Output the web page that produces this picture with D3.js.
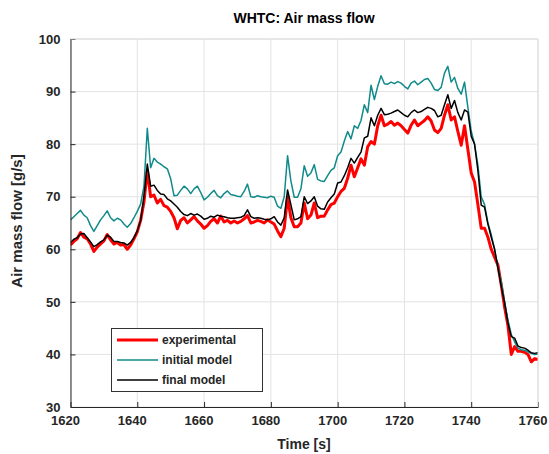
<!DOCTYPE html>
<html><head><meta charset="utf-8">
<script src="https://cdn.jsdelivr.net/npm/d3@7"></script>
<style>body{margin:0;background:#fff}text{font-family:"Liberation Sans",Arial,Helvetica,sans-serif;font-weight:bold;fill:#262626}</style>
</head><body><svg id="c" width="549" height="454"></svg>
<script>
const title = "WHTC: Air mass flow";
const xLabel = "Time [s]";
const yLabel = "Air mass flow [g/s]";
const xTicks = [1620,1640,1660,1680,1700,1720,1740,1760];
const yTicks = [30,40,50,60,70,80,90,100];
const seriesNames = ["experimental","initial model","final model"];
const seriesColors = ["#ff0000","#108a8a","#000000"];
const t0 = 1620, dt = 1;

const experimental = [
60.8,61.5,62.0,63.2,62.3,62.0,61.0,59.6,60.4,61.0,
61.6,62.8,61.8,61.0,61.3,60.8,60.9,60.0,60.8,62.0,
63.3,65.5,69.0,75.0,70.0,70.3,68.8,69.5,68.3,68.0,
67.2,66.0,63.9,65.5,66.0,65.0,65.6,66.2,65.4,64.8,
64.0,64.5,65.3,65.8,65.0,66.3,65.2,65.5,65.0,65.4,
65.0,65.3,65.8,66.4,65.0,65.2,65.5,65.3,65.0,65.6,
65.2,64.8,63.5,62.4,64.0,70.0,66.0,64.3,64.3,65.0,
68.8,65.8,66.5,68.8,66.0,66.3,66.3,67.5,68.5,68.8,
70.0,71.0,71.6,73.5,76.0,73.8,75.5,77.2,76.0,79.5,
80.5,80.0,83.5,85.5,83.5,83.8,84.3,83.6,84.0,83.5,
82.8,82.1,83.6,84.6,83.5,84.0,84.5,85.2,84.4,82.7,
82.2,83.0,85.5,87.5,84.6,85.2,82.4,79.8,83.5,79.0,
74.5,72.8,68.5,64.0,64.0,62.3,60.0,58.5,57.0,53.2,
49.0,45.5,40.0,41.5,40.6,40.6,40.4,40.0,38.6,39.2,
39.0];

const initialModel = [
65.6,66.2,66.8,67.4,66.5,66.0,64.5,63.4,64.5,65.6,
66.4,67.3,66.0,65.4,65.9,65.6,64.8,64.2,64.9,66.0,
67.2,68.6,72.0,83.0,75.5,77.3,76.6,76.2,75.7,75.3,
73.4,70.2,70.3,71.2,72.0,71.5,70.6,71.5,72.0,70.8,
69.4,69.9,70.6,71.2,70.2,69.8,70.6,71.1,70.4,70.3,
70.1,70.0,71.0,72.4,70.0,69.9,70.2,70.0,69.9,69.8,
70.1,69.9,68.2,67.8,70.0,77.8,73.0,69.9,69.9,71.5,
75.9,73.9,74.5,76.1,73.3,73.0,72.9,74.0,75.0,75.5,
77.8,78.5,80.6,82.4,81.0,83.5,83.0,84.5,87.5,86.0,
91.2,88.5,91.0,93.0,91.5,91.4,91.8,91.5,91.9,91.6,
91.0,90.5,91.6,92.0,91.3,91.8,92.3,92.5,91.6,90.4,
90.2,90.8,93.5,94.8,91.8,92.7,90.6,89.5,91.8,87.0,
82.5,80.0,76.0,70.0,68.5,65.0,62.8,60.0,56.5,53.8,
50.0,46.5,43.8,42.4,41.2,40.9,40.8,40.5,40.2,40.0,
40.1];

const finalModel = [
61.3,61.9,62.2,62.9,63.0,62.2,61.4,60.5,60.9,61.4,
61.8,62.7,62.3,61.5,61.5,61.3,61.2,60.8,61.3,62.2,
63.5,65.5,70.0,76.2,72.0,72.2,71.2,70.5,70.4,69.6,
69.2,68.6,68.0,67.2,66.6,66.4,66.8,66.5,66.7,66.3,
65.7,65.9,66.3,66.1,66.5,66.3,66.2,66.0,65.9,65.9,
66.0,66.1,66.4,67.5,66.2,65.9,66.0,65.9,65.7,65.6,
65.8,66.2,65.2,64.6,66.0,71.3,68.5,65.6,65.8,66.2,
70.0,68.7,69.2,70.0,68.2,67.7,67.6,69.0,69.8,70.5,
72.6,72.8,74.0,75.5,77.3,76.4,77.5,78.5,81.2,81.5,
85.0,83.5,85.5,86.8,85.6,85.7,85.9,86.2,86.5,86.0,
85.5,85.2,86.0,86.5,86.0,86.2,86.6,87.0,86.8,86.4,
85.2,85.5,87.5,89.4,86.8,88.3,86.0,84.6,86.5,86.1,
81.5,80.0,75.0,68.4,68.0,64.8,62.3,60.0,56.5,53.0,
49.8,46.0,43.4,43.1,41.6,41.3,41.2,40.8,40.3,40.2,
40.3];

const seriesData = [experimental, initialModel, finalModel];
const seriesWidths = [3, 1.5, 1.5];

const svg = d3.select("#c");
const L = 70.5, R = 538, T = 39, B = 407;
const x = d3.scaleLinear().domain([1620,1760]).range([L,R]);
const y = d3.scaleLinear().domain([30,100]).range([B,T]);

// grid
svg.append("g").selectAll("line").data(xTicks).join("line")
  .attr("x1",d=>x(d)).attr("x2",d=>x(d)).attr("y1",T).attr("y2",B)
  .attr("stroke","#e3e3e3").attr("stroke-width",1);
svg.append("g").selectAll("line").data(yTicks).join("line")
  .attr("x1",L).attr("x2",R).attr("y1",d=>y(d)).attr("y2",d=>y(d))
  .attr("stroke","#e3e3e3").attr("stroke-width",1);

// lines
svg.append("clipPath").attr("id","clp").append("rect")
  .attr("x",L).attr("y",T).attr("width",R-L).attr("height",B-T);
const line = d3.line().x((d,i)=>x(t0+i*dt)).y(d=>y(d));
seriesData.forEach((s,k)=>{
  svg.append("path").datum(s).attr("d",line).attr("fill","none")
    .attr("stroke",seriesColors[k]).attr("stroke-width",seriesWidths[k])
    .attr("stroke-linejoin","round").attr("clip-path","url(#clp)");
});

// axes
const xAxis = d3.axisBottom(x).tickValues(xTicks).tickSizeInner(-5).tickSizeOuter(0).tickPadding(9).tickFormat(d3.format("d"));
const yAxis = d3.axisLeft(y).tickValues(yTicks).tickSizeInner(-5).tickSizeOuter(0).tickPadding(10).tickFormat(d3.format("d"));
const gx = svg.append("g").attr("transform",`translate(0,${B})`).call(xAxis);
const gy = svg.append("g").attr("transform",`translate(${L},0)`).call(yAxis);
[gx,gy].forEach(g=>{
  g.select(".domain").attr("stroke","#262626");
  g.selectAll(".tick line").attr("stroke","#262626");
  g.selectAll(".tick text").attr("font-size",13).attr("font-family","Liberation Sans, Arial, sans-serif").attr("font-weight","bold").attr("fill","#262626");
});
gx.selectAll(".tick text").attr("dx",-5.5);
// top/right box
svg.append("line").attr("x1",L).attr("x2",R).attr("y1",T).attr("y2",T).attr("stroke","#dcdcdc");
svg.append("line").attr("x1",R).attr("x2",R).attr("y1",T).attr("y2",B).attr("stroke","#dcdcdc");

// labels
svg.append("text").attr("x",304).attr("y",23).attr("text-anchor","middle").attr("font-size",14).style("fill","#000").text(title);
svg.append("text").attr("x",304).attr("y",449).attr("text-anchor","middle").attr("font-size",14).text(xLabel);
svg.append("text").attr("transform","translate(22,221) rotate(-90)").attr("text-anchor","middle").attr("font-size",15).text(yLabel);

// legend
const lg = svg.append("g");
lg.append("rect").attr("x",111.5).attr("y",328.5).attr("width",151).attr("height",63)
  .attr("fill","#fff").attr("stroke","#333").attr("stroke-width",1);
const rows = [340,360,380];
seriesNames.forEach((n,k)=>{
  lg.append("line").attr("x1",117).attr("x2",158).attr("y1",rows[k]).attr("y2",rows[k])
    .attr("stroke",seriesColors[k]).attr("stroke-width",seriesWidths[k]);
  lg.append("text").attr("x",162).attr("y",rows[k]+4).attr("font-size",12).text(n);
});
</script></body></html>
